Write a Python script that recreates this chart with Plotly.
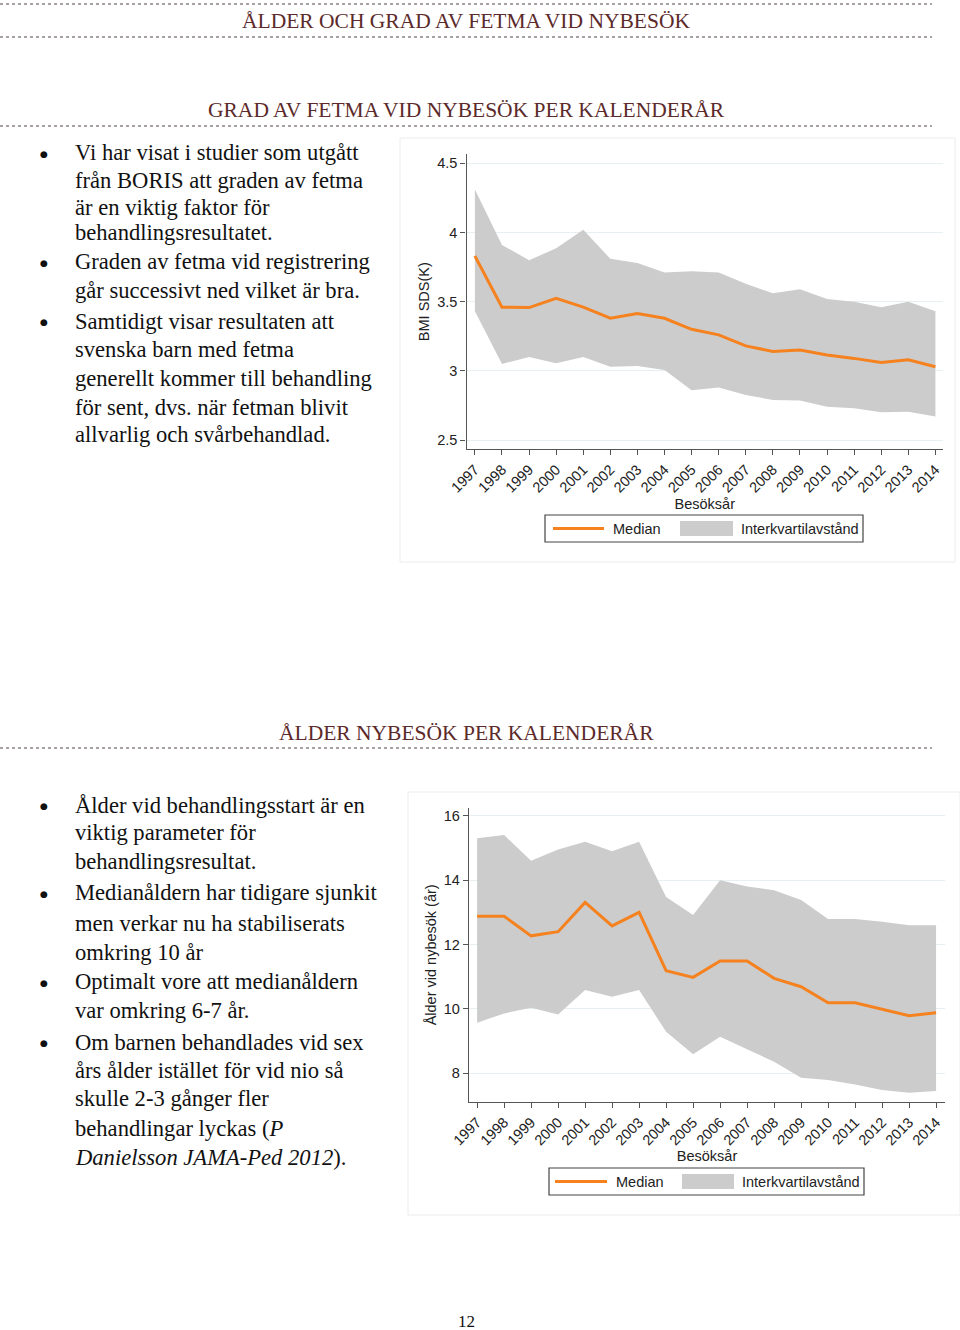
import plotly.graph_objects as go

# ---------------- data ----------------
years = list(range(1997, 2015))
year_labels = [str(y) for y in years]

bmi_median = [3.83, 3.46, 3.457, 3.524, 3.46, 3.38, 3.415, 3.38, 3.30, 3.26,
              3.18, 3.14, 3.15, 3.115, 3.09, 3.06, 3.08, 3.03]
bmi_q3 = [4.31, 3.91, 3.80, 3.885, 4.02, 3.81, 3.78, 3.71, 3.72, 3.71,
          3.63, 3.56, 3.59, 3.52, 3.50, 3.46, 3.50, 3.43]
bmi_q1 = [3.43, 3.05, 3.10, 3.055, 3.10, 3.03, 3.035, 3.006, 2.86, 2.88,
          2.825, 2.79, 2.785, 2.74, 2.73, 2.70, 2.705, 2.67]
bmi_ticks = [2.5, 3, 3.5, 4, 4.5]
bmi_ticktext = ["2.5", "3", "3.5", "4", "4.5"]

age_median = [12.88, 12.88, 12.27, 12.40, 13.31, 12.58, 13.0, 11.19, 10.98, 11.49,
              11.49, 10.95, 10.69, 10.19, 10.19, 9.99, 9.79, 9.88]
age_q3 = [15.30, 15.40, 14.60, 14.95, 15.19, 14.90, 15.19, 13.48, 12.92, 14.0,
          13.80, 13.69, 13.38, 12.79, 12.79, 12.71, 12.60, 12.60]
age_q1 = [9.57, 9.86, 10.04, 9.83, 10.59, 10.38, 10.59, 9.29, 8.59, 9.14,
          8.75, 8.36, 7.86, 7.79, 7.65, 7.48, 7.40, 7.45]
age_ticks = [8, 10, 12, 14, 16]
age_ticktext = ["8", "10", "12", "14", "16"]

legend_labels = ["Median", "Interkvartilavstånd"]

heading_main = "ÅLDER OCH GRAD AV FETMA VID NYBESÖK"
heading_1 = "GRAD AV FETMA VID NYBESÖK PER KALENDERÅR"
heading_2 = "ÅLDER NYBESÖK PER KALENDERÅR"
page_number = "12"

text_block_1 = [
    ("Vi har visat i studier som utgått", True),
    ("från BORIS att graden av fetma", False),
    ("är en viktig faktor för", False),
    ("behandlingsresultatet.", False),
    ("Graden av fetma vid registrering", True),
    ("går successivt ned vilket är bra.", False),
    ("Samtidigt visar resultaten att", True),
    ("svenska barn med fetma", False),
    ("generellt kommer till behandling", False),
    ("för sent, dvs. när fetman blivit", False),
    ("allvarlig och svårbehandlad.", False),
]
text_block_2 = [
    ("Ålder vid behandlingsstart är en", True),
    ("viktig parameter för", False),
    ("behandlingsresultat.", False),
    ("Medianåldern har tidigare sjunkit", True),
    ("men verkar nu ha stabiliserats", False),
    ("omkring 10 år", False),
    ("Optimalt vore att medianåldern", True),
    ("var omkring 6-7 år.", False),
    ("Om barnen behandlades vid sex", True),
    ("års ålder istället för vid nio så", False),
    ("skulle 2-3 gånger fler", False),
    ("behandlingar lyckas (<i>P</i>", False),
    ("<i>Danielsson JAMA-Ped 2012</i>).", False),
]

# ---------------- layout helpers ----------------
W, H = 960, 1330
def px(x):
    return x / W
def py(y):
    return 1 - y / H

ORANGE = "#f5821f"
BAND = "#cccccc"
SERIF = "Liberation Serif"
SANS = "Liberation Sans"
HEAD_COL = "#5c2a2a"
TXT = "#222222"
FS = 14.5

fig = go.Figure()

# chart 1
fig.add_trace(go.Scatter(x=years, y=bmi_q1, mode="lines", line=dict(width=0),
                         showlegend=False, hoverinfo="skip", xaxis="x", yaxis="y"))
fig.add_trace(go.Scatter(x=years, y=bmi_q3, mode="lines", line=dict(width=0),
                         fill="tonexty", fillcolor=BAND, name=legend_labels[1],
                         showlegend=False, xaxis="x", yaxis="y"))
fig.add_trace(go.Scatter(x=years, y=bmi_median, mode="lines",
                         line=dict(color=ORANGE, width=3), name=legend_labels[0],
                         showlegend=False, xaxis="x", yaxis="y"))
# chart 2
fig.add_trace(go.Scatter(x=years, y=age_q1, mode="lines", line=dict(width=0),
                         showlegend=False, hoverinfo="skip", xaxis="x2", yaxis="y2"))
fig.add_trace(go.Scatter(x=years, y=age_q3, mode="lines", line=dict(width=0),
                         fill="tonexty", fillcolor=BAND, name=legend_labels[1],
                         showlegend=False, xaxis="x2", yaxis="y2"))
fig.add_trace(go.Scatter(x=years, y=age_median, mode="lines",
                         line=dict(color=ORANGE, width=3), name=legend_labels[0],
                         showlegend=False, xaxis="x2", yaxis="y2"))

axis_common = dict(showline=True, linecolor="#555555", linewidth=1.3,
                   ticks="outside", ticklen=5, tickcolor="#555555",
                   tickfont=dict(family=SANS, size=FS, color=TXT),
                   zeroline=False, automargin=False)

xcommon = dict(axis_common, tickvals=years, ticktext=year_labels, tickangle=-45,
               showgrid=False,
               title=dict(text="Besöksår", font=dict(family=SANS, size=FS, color=TXT),
                          standoff=0))

fig.update_layout(
    template="none",
    width=W, height=H,
    margin=dict(l=0, r=0, t=0, b=0, pad=0, autoexpand=False),
    paper_bgcolor="white", plot_bgcolor="white",
    showlegend=False,
    xaxis=dict(xcommon, domain=[px(466.5), px(943)], range=[1996.69, 2014.28], anchor="y"),
    yaxis=dict(axis_common, domain=[py(449.3), py(154)], range=[2.433, 4.567],
               tickvals=bmi_ticks, ticktext=bmi_ticktext, showgrid=True,
               gridcolor="#e6eff1", gridwidth=1, anchor="x",
               title=dict(text="BMI SDS(K)", font=dict(family=SANS, size=FS, color=TXT),
                          standoff=4)),
    xaxis2=dict(xcommon, domain=[px(469), px(945)], range=[1996.7, 2014.33], anchor="y2"),
    yaxis2=dict(axis_common, domain=[py(1102), py(807.7)], range=[7.11, 16.25],
                tickvals=age_ticks, ticktext=age_ticktext, showgrid=True,
                gridcolor="#e6eff1", gridwidth=1, anchor="x2",
                title=dict(text="Ålder vid nybesök (år)",
                           font=dict(family=SANS, size=FS, color=TXT), standoff=3)),
)

shapes = []
ann = []
# dotted rules
for yline in [4, 37, 126, 748]:
    shapes.append(dict(type="line", xref="paper", yref="paper",
                       x0=0, x1=px(932), y0=py(yline), y1=py(yline),
                       line=dict(color="#8c8282", width=1.5, dash="dot")))
# faint chart frames
for (x0, y0, x1, y1) in [(400, 138, 955, 562), (408, 792, 960, 1215)]:
    shapes.append(dict(type="rect", xref="paper", yref="paper",
                       x0=px(x0), x1=px(x1), y0=py(y1), y1=py(y0),
                       line=dict(color="#ececec", width=1), layer="below"))

# legends (boxed, below each chart)
def legend_box(bx0, by0, bx1, by1, line_x0, line_x1, ly, gx0, gx1, gy0, gy1, t1x, t2x):
    shapes.append(dict(type="rect", xref="paper", yref="paper",
                       x0=px(bx0), x1=px(bx1), y0=py(by1), y1=py(by0),
                       line=dict(color="#444444", width=1.2), fillcolor="white"))
    shapes.append(dict(type="line", xref="paper", yref="paper",
                       x0=px(line_x0), x1=px(line_x1), y0=py(ly), y1=py(ly),
                       line=dict(color=ORANGE, width=3)))
    shapes.append(dict(type="rect", xref="paper", yref="paper",
                       x0=px(gx0), x1=px(gx1), y0=py(gy1), y1=py(gy0),
                       line=dict(width=0), fillcolor=BAND))
    for txt, tx in [(legend_labels[0], t1x), (legend_labels[1], t2x)]:
        ann.append(dict(text=txt, x=px(tx), y=py(ly), xref="paper", yref="paper",
                        showarrow=False, xanchor="left", yanchor="middle",
                        font=dict(family=SANS, size=FS, color=TXT)))

legend_box(545, 515, 863, 542, 553, 604, 528.5, 680, 733, 521, 536, 611, 739)
legend_box(549, 1168, 864, 1195, 555, 607, 1181.5, 682, 734, 1174, 1189, 614, 740)

fig.update_layout(shapes=shapes)

def head(text, y, size):
    ann.append(dict(text=text, x=px(466), y=py(y), xref="paper", yref="paper",
                    showarrow=False, xanchor="center", yanchor="middle",
                    font=dict(family=SERIF, size=size, color=HEAD_COL)))
head(heading_main, 21, 21.5)
head(heading_1, 110, 21.5)
head(heading_2, 733, 21.5)

ys1 = [153, 180, 207, 233, 262, 290, 321, 349, 378, 407, 434]
ys2 = [805, 833, 862, 893, 923, 952, 982, 1010, 1042, 1070, 1098, 1128, 1157]
for block, ys in [(text_block_1, ys1), (text_block_2, ys2)]:
    for (line, bullet), yy in zip(block, ys):
        ann.append(dict(text=line, x=px(73), y=py(yy), xref="paper", yref="paper",
                        showarrow=False, xanchor="left", yanchor="middle",
                        font=dict(family=SERIF, size=22.6, color="#111111")))
        if bullet:
            ann.append(dict(text="●", x=px(44), y=py(yy + 1), xref="paper", yref="paper",
                            showarrow=False, xanchor="center", yanchor="middle",
                            font=dict(family="DejaVu Sans", size=9, color="#111111")))
ann.append(dict(text=page_number, x=px(466), y=py(1321), xref="paper", yref="paper",
                showarrow=False, xanchor="center", yanchor="middle",
                font=dict(family=SERIF, size=17, color="#111111")))
fig.update_layout(annotations=ann)

fig.write_html("out.html",
               config={"displayModeBar": False},
               post_script="document.body.style.margin='0';document.body.style.overflow='hidden';")
